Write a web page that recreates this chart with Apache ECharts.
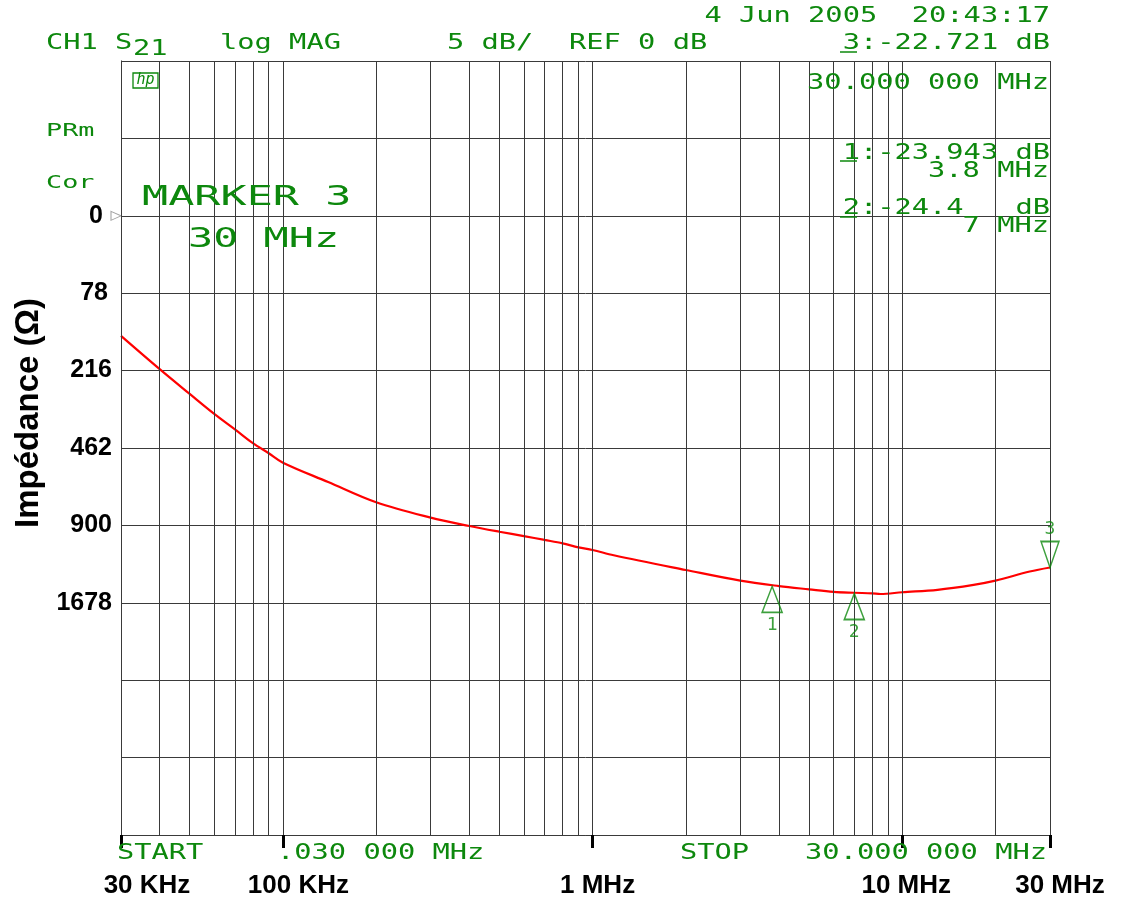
<!DOCTYPE html>
<html><head><meta charset="utf-8">
<script src="https://cdn.jsdelivr.net/npm/echarts@6/dist/echarts.min.js"></script>
<style>html,body{margin:0;padding:0;background:#fff}#c{width:1125px;height:899px}</style>
</head><body><div id="c"></div>
<script>
// ---- data ----
const freqHz = [30e3, 40e3, 50e3, 60e3, 70e3, 80e3, 90e3, 100e3, 140e3, 200e3, 300e3, 400e3, 500e3, 600e3, 700e3, 800e3, 900e3, 1e6, 1.17e6, 2e6, 3e6, 4e6, 5e6, 6e6, 7e6, 8e6, 8.5e6, 10e6, 13e6, 17e6, 20e6, 25.8e6, 30e6];
const s21Db  = [-7.76, -9.91, -11.51, -12.8, -13.8, -14.69, -15.34, -15.95, -17.2, -18.51, -19.50, -20.04, -20.41, -20.69, -20.94, -21.16, -21.42, -21.59, -21.93, -22.88, -23.57, -23.92, -24.13, -24.29, -24.35, -24.39, -24.43, -24.32, -24.16, -23.84, -23.57, -22.98, -22.72];
const markerFreq  = [3.8e6, 7e6, 30e6];
const markerDb    = [-23.943, -24.4, -22.721];
const markerNames = ['1', '2', '3'];
const gridFreqs = [3e4,4e4,5e4,6e4,7e4,8e4,9e4,1e5,2e5,3e5,4e5,5e5,6e5,7e5,8e5,9e5,1e6,2e6,3e6,4e6,5e6,6e6,7e6,8e6,9e6,1e7,2e7,3e7];
const xTickValues = [3e4, 1e5, 1e6, 1e7, 3e7];
const xTickLabels = ['30 KHz', '100 KHz', '1 MHz', '10 MHz', '30 MHz'];
const yTickDb     = [0, -5, -10, -15, -20, -25];
const yTickLabels = ['0', '78', '216', '462', '900', '1678'];

const G = '#0d880d';
const MONO = '"DejaVu Sans Mono", monospace';
const SANS = '"Liberation Sans", Arial, sans-serif';
const GRIDC = '#3a3a3a';

function gt(text, x, cy, size, sx, align) {
  return { type: 'text', x: x, y: cy, scaleX: sx, z: 100, silent: true,
    style: { text: text, fill: G, fontSize: size, fontFamily: MONO,
      align: align || 'left', verticalAlign: 'middle' } };
}
function gl(x1, y1, x2, y2) {
  return { type: 'line', z: 100, silent: true, shape: { x1, y1, x2, y2 }, style: { stroke: G, lineWidth: 1.5 } };
}
const S = 20.5, SX = 1.40;
const graphics = [
  gt('CH1 S', 46, 43.5, S, SX),
  gt('21', 133, 50, S, SX),
  gt('log MAG', 220, 43.5, S, SX),
  gt('5 dB/', 447, 43.5, S, SX),
  gt('REF 0 dB', 569, 43.5, S, SX),
  gt('4 Jun 2005  20:43:17', 1050, 17, S, SX, 'right'),
  gt('3:-22.721 dB', 1050, 43.5, S, SX, 'right'),
  gl(840, 52, 857, 52),
  gt('30.000 000 MHz', 1049, 83.5, S, SX, 'right'),
  gt('1:-23.943 dB', 1050, 153.5, S, SX, 'right'),
  gl(840, 161, 857, 161),
  gt('3.8 MHz', 1049, 171.5, S, SX, 'right'),
  gt('2:-24.4   dB', 1050, 208.5, S, SX, 'right'),
  gl(840, 217, 857, 217),
  gt('7 MHz', 1049, 226.5, S, SX, 'right'),
  gt('PRm', 46, 131.5, 18.5, 1.45),
  gt('Cor', 46, 183, 18.5, 1.45),
  gt('MARKER 3', 142, 198.5, 26.5, 1.64),
  gt('30 MHz', 188, 240.5, 26.5, 1.58),
  gt('START', 117, 854, S, SX),
  gt('.030 000 MHz', 277, 854, S, SX),
  gt('STOP', 680, 854, S, SX),
  gt('30.000 000 MHz', 1047, 854, S, SX, 'right'),
  { type: 'rect', z: 100, silent: true, shape: { x: 133, y: 73, width: 25, height: 15 }, style: { fill: 'none', stroke: G, lineWidth: 1.3 } },
  { type: 'text', x: 145.5, y: 80.5, z: 100, silent: true, style: { text: 'hp', fill: G, fontSize: 15, fontStyle: 'italic', fontFamily: MONO, align: 'center', verticalAlign: 'middle' } }
];

// label shifts as seen in the picture
const xLabelPad = [52, 31, 10, 8, 20];
const xRich = {};
xLabelPad.forEach((p, i) => {
  xRich['l' + i] = { padding: [0, 0, 0, p], fontSize: 26, fontWeight: 'bold', color: '#000', fontFamily: SANS };
});
const yLabelPad = [9, 4, 0, 0, 0, 0];
const yRich = {};
yLabelPad.forEach((p, i) => {
  yRich['r' + i] = { padding: [0, p, 0, 0], fontSize: 25, fontWeight: 'bold', color: '#000', fontFamily: SANS };
});
function fx(v) {
  for (let i = 0; i < xTickValues.length; i++) {
    if (Math.abs(Math.log10(v) - Math.log10(xTickValues[i])) < 1e-4) return '{l' + i + '|' + xTickLabels[i] + '}';
  }
  return '';
}
function fy(v) {
  const i = yTickDb.findIndex(d => Math.abs(d - v) < 1e-6);
  if (i < 0) return '';
  return '{r' + i + '|' + yTickLabels[i] + '}';
}

const chart = echarts.init(document.getElementById('c'));
chart.setOption({
  animation: false,
  backgroundColor: '#fff',
  grid: { left: 121, right: 75, top: 61, bottom: 64 },
  xAxis: {
    type: 'log', logBase: 10, min: 3e4, max: 3e7,
    axisLine: { show: true, onZero: false, lineStyle: { color: GRIDC, width: 1 } },
    axisTick: { show: true, length: 13, lineStyle: { color: '#000', width: 3 } },
    splitLine: { show: false },
    minorTick: { show: false },
    axisLabel: { margin: 38, fontSize: 26, fontWeight: 'bold', color: '#000', fontFamily: SANS,
      formatter: fx, rich: xRich, showMinLabel: true, showMaxLabel: true }
  },
  yAxis: {
    type: 'value', min: -40, max: 10, interval: 5,
    name: 'Impédance (Ω)', nameLocation: 'middle', nameGap: 75, nameRotate: 90,
    nameTextStyle: { fontSize: 33, fontWeight: 'bold', color: '#000', fontFamily: SANS, padding: [0, 0, 0, 70] },
    axisLine: { show: true, lineStyle: { color: '#000', width: 1 } },
    axisTick: { show: false },
    splitLine: { show: true, lineStyle: { color: GRIDC, width: 1 } },
    axisLabel: { margin: 9, fontSize: 25, fontWeight: 'bold', color: '#000', fontFamily: SANS, formatter: fy, rich: yRich }
  },
  graphic: graphics,
  series: [
    {
      type: 'scatter', z: 1, clip: false, silent: true,
      data: [[xTickValues[0], yTickDb[0]]],
      symbol: 'path://M0,0L10,5L0,10Z', symbolSize: [10, 9], symbolOffset: [-5, 0],
      itemStyle: { color: 'rgba(0,0,0,0)', borderColor: '#888', borderWidth: 1 },
      markLine: {
        silent: true, symbol: ['none', 'none'], label: { show: false },
        lineStyle: { color: GRIDC, width: 1, type: 'solid' },
        emphasis: { disabled: true },
        data: gridFreqs.map(f => ({ xAxis: f }))
      }
    },
    {
      type: 'line', z: 4, silent: true, showSymbol: false, smooth: 0.35,
      data: freqHz.map((f, i) => [f, s21Db[i]]),
      lineStyle: { color: '#ff0000', width: 2.2 }
    },
    {
      type: 'scatter', z: 5, clip: false, silent: true,
      data: markerFreq.map((f, i) => ({
        value: [f, markerDb[i]], name: markerNames[i],
        symbol: i === 2 ? 'path://M0,0L20,0L10,26Z' : 'path://M10,0L20,26L0,26Z',
        symbolSize: i === 2 ? [18, 26] : [20, 26],
        symbolOffset: i === 2 ? [0, -13] : [0, 13],
        label: { position: i === 2 ? 'top' : 'bottom', distance: i === 2 ? 2 : 3 }
      })),
      itemStyle: { color: 'rgba(0,0,0,0)', borderColor: G, borderWidth: 1.6 },
      label: { show: true, formatter: p => p.name, color: G, fontFamily: MONO, fontSize: 18 }
    }
  ]
});
</script>
</body></html>
